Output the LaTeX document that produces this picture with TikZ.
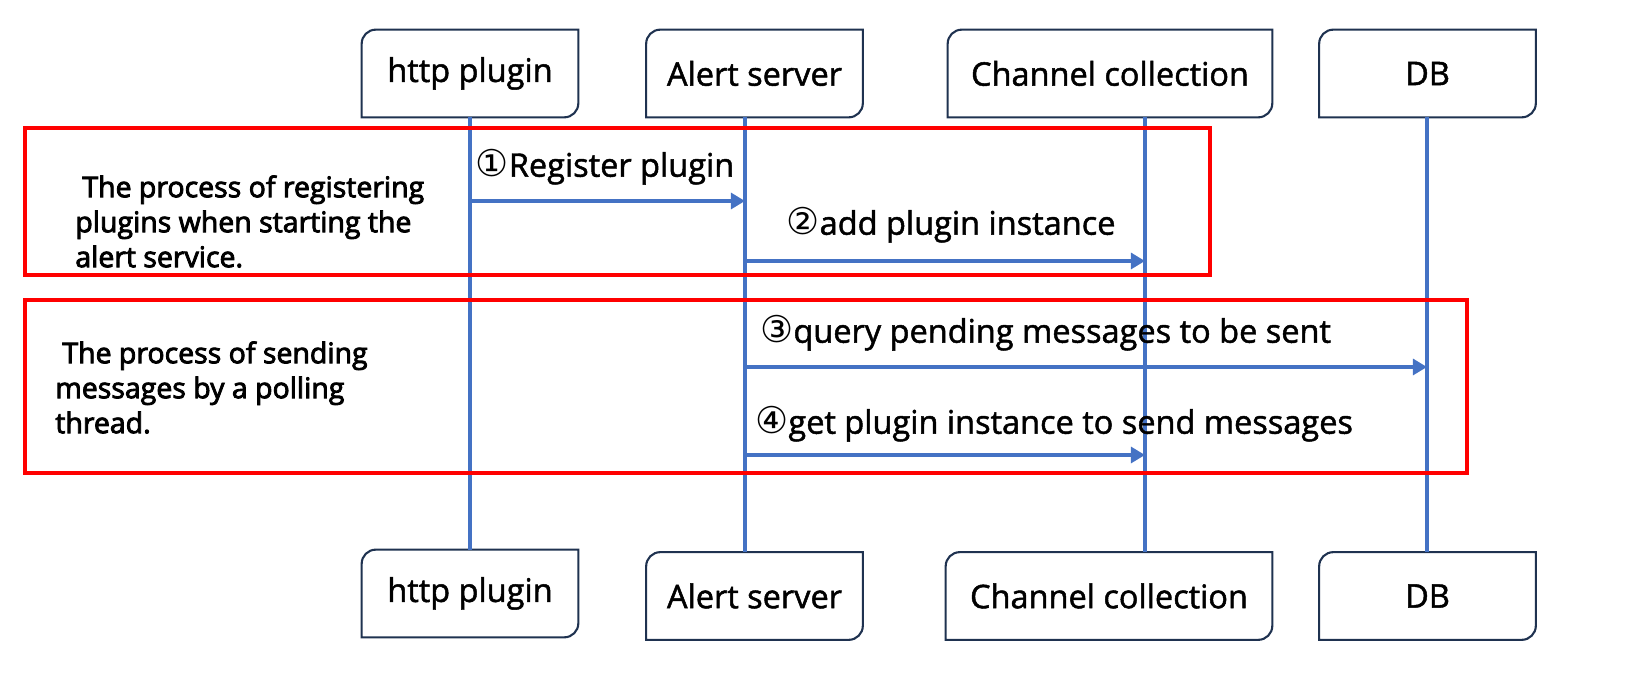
\documentclass[tikz,border=0pt]{standalone}
\usepackage{fontspec}
\setmainfont{Open Sans}[FakeBold=1.5]
\newfontfamily\circfont{DejaVu Sans}
\newfontfamily\notefont{Open Sans}[FakeBold=3]
\usetikzlibrary{arrows.meta}
\definecolor{lifeblue}{HTML}{4472C4}
\definecolor{boxnavy}{HTML}{1F3250}
\newcommand{\boxrad}{8pt}
\newcommand{\snipbox}[1]{\draw[boxline] (#1.south west) -- ([yshift=-\boxrad]#1.north west)
  arc[start angle=180,end angle=90,radius=\boxrad] -- (#1.north east) -- ([yshift=\boxrad]#1.south east)
  arc[start angle=0,end angle=-90,radius=\boxrad] -- cycle;}
\newcommand{\circnum}[1]{{\circfont\fontsize{21}{22}\selectfont #1}}

\begin{document}
\begin{tikzpicture}[x=0.02cm,y=-0.02cm,
    actor/.style={minimum width=4.32cm, minimum height=1.74cm, inner sep=0pt, font=\fontsize{18.5}{22}\selectfont},
    boxline/.style={draw=boxnavy, line width=1.2pt},
    life/.style={draw=lifeblue, line width=2.8pt},
    msg/.style={draw=lifeblue, line width=2.8pt, -{Triangle[length=8pt,width=9pt]}},
    msglabel/.style={inner sep=0pt, font=\fontsize{18.5}{22}\selectfont},
    phase/.style={draw=red, line width=2.8pt},
    phasetext/.style={inner sep=0pt, align=left, anchor=west, font=\notefont\fontsize{16.2}{19.9}\selectfont}]
  \useasboundingbox (0,0) rectangle (1641,699);

      %%  participants, top and bottom %%
  \node (hp-top) at (470,73.5)    [actor] {http plugin};
  \node (as-top) at (754.5,73.5)  [actor] {Alert server};
  \node (cc-top) at (1110,73.5)   [actor, minimum width=6.48cm] {Channel collection};
  \node (db-top) at (1427.5,73.5) [actor] {DB};

  \node (hp-bot) at (470,593.5)   [actor] {http plugin};
  \node (as-bot) at (754.5,596)   [actor] {Alert server};
  \node (cc-bot) at (1109,596)    [actor, minimum width=6.52cm] {Channel collection};
  \node (db-bot) at (1427.5,596)  [actor] {DB};

  \foreach \n in {hp,as,cc,db}
  { \snipbox{\n-top} \snipbox{\n-bot} }

      %%  lifelines %%
  \foreach \n/\x in {hp/470,as/745,cc/1145,db/1427}
  { \coordinate (L\n) at (\x,0);
    \draw[life] (L\n |- \n-top.south) -- (L\n |- \n-bot.north); }

      %%  the two phases %%
  \draw[phase] (25,128) rectangle (1210,275);
  \draw[phase] (25,300) rectangle (1467,473);
  \node (reg) at (75,221.5) [phasetext] {\hspace*{4pt}The process of registering\\plugins when starting the\\alert service.};
  \node (poll) at (55,387.5) [phasetext] {\hspace*{4pt}The process of sending\\messages by a polling\\thread.};

      %%  messages %%
  \coordinate (m1) at (0,201);
  \coordinate (m2) at (0,261);
  \coordinate (m3) at (0,367);
  \coordinate (m4) at (0,455);
  \draw[msg] (Lhp |- m1) to (Las |- m1);
  \draw[msg] (Las |- m2) to (Lcc |- m2);
  \draw[msg] (Las |- m3) to (Ldb |- m3);
  \draw[msg] (Las |- m4) to (Lcc |- m4);
  \node (t1) at (605,167) [msglabel] {\circnum{①}Register plugin};
  \node (t2) at (951,225) [msglabel] {\circnum{②}add plugin instance};
  \node (t3) at (760,333) [msglabel, anchor=west] {\circnum{③}query pending messages to be sent};
  \node (t4) at (755,424) [msglabel, anchor=west] {\circnum{④}get plugin instance to send messages};
\end{tikzpicture}
\end{document}
